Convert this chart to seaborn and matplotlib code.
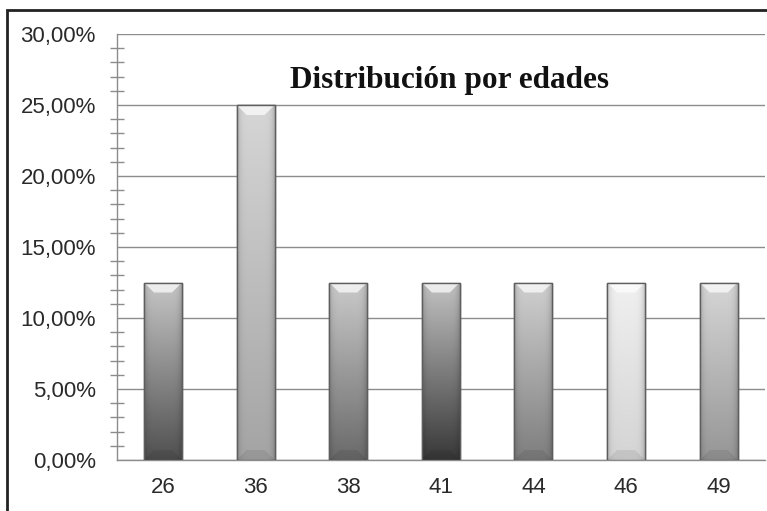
import numpy as np
import pandas as pd
import matplotlib
matplotlib.use("Agg")
import matplotlib.pyplot as plt
import matplotlib.ticker as mticker
from matplotlib.patches import Rectangle, Polygon
import seaborn as sns

# Chart data
edades = ["26", "36", "38", "41", "44", "46", "49"]
porcentajes = [12.5, 25.0, 12.5, 12.5, 12.5, 12.5, 12.5]

# grey shade of each bar (top, bottom)
tonos_arriba = ["#c6c6c6", "#d6d6d6", "#cacaca", "#c2c2c2", "#d0d0d0", "#f0f0f0", "#d6d6d6"]
tonos_abajo = ["#505050", "#a4a4a4", "#6a6a6a", "#383838", "#7e7e7e", "#d4d4d4", "#969696"]

df = pd.DataFrame({"edad": edades, "pct": porcentajes})

sns.set_style("white")
plt.rcParams["font.family"] = ["Liberation Sans", "DejaVu Sans"]

fig = plt.figure(figsize=(7.67, 5.11), dpi=100)
ax = fig.add_axes([116.7 / 767, 51 / 511, 648.3 / 767, 426 / 511])

sns.barplot(data=df, x="edad", y="pct", ax=ax, width=0.41,
            color="#aaaaaa", edgecolor="#5a5a5a", linewidth=1.0, zorder=3)

ax.set_ylim(0, 30)
ax.set_xlim(-0.5, len(edades) - 0.5)

# gradient fill for each bar, clipped to the bar patch
fig.canvas.draw()
inv = ax.transData.inverted()
px_x = inv.transform((1, 0))[0] - inv.transform((0, 0))[0]
px_y = inv.transform((0, 1))[1] - inv.transform((0, 0))[1]

for patch, c_top, c_bot in zip(ax.patches, tonos_arriba, tonos_abajo):
    x0, y0 = patch.get_x(), patch.get_y()
    w, h = patch.get_width(), patch.get_height()
    top = np.array(matplotlib.colors.to_rgb(c_top))
    bot = np.array(matplotlib.colors.to_rgb(c_bot))
    v = np.linspace(0, 1, 200)[:, None, None]
    u = np.linspace(-1, 1, 60)[None, :, None]
    img = top + (bot - top) * v
    img = img * (1 - 0.18 * np.abs(u) ** 6)
    im = ax.imshow(np.clip(img, 0, 1), extent=(x0, x0 + w, y0, y0 + h),
                   aspect="auto", origin="upper", zorder=3.5, interpolation="bilinear")
    im.set_clip_path(patch)
    # bevel at top
    bx, by = 10 * px_x, 10 * px_y
    bevel = Polygon([(x0, y0 + h), (x0 + w, y0 + h), (x0 + w - bx, y0 + h - by),
                     (x0 + bx, y0 + h - by)], closed=True, facecolor="white",
                    alpha=0.7, edgecolor="none", zorder=3.6)
    ax.add_patch(bevel)
    # soft dark band at bottom
    base = Polygon([(x0, y0), (x0 + w, y0), (x0 + w - bx, y0 + by), (x0 + bx, y0 + by)],
                   closed=True, facecolor="black", alpha=0.08, edgecolor="none", zorder=3.6)
    ax.add_patch(base)
    outline = Rectangle((x0, y0), w, h, fill=False, edgecolor="#5e5e5e", lw=1.0, zorder=3.7)
    ax.add_patch(outline)

# axes styling
ax.yaxis.set_major_locator(mticker.MultipleLocator(5))
ax.yaxis.set_minor_locator(mticker.MultipleLocator(1))
ax.yaxis.set_major_formatter(mticker.FuncFormatter(lambda v, p: f"{v:.2f}%".replace(".", ",")))
ax.grid(axis="y", which="major", color="#8c8c8c", lw=1.0, zorder=0)
ax.set_axisbelow(True)

ax.set_xticks(range(len(edades)))
ax.set_xticks(np.arange(-0.5, len(edades)), minor=True)
ax.tick_params(axis="x", which="major", direction="inout", length=8, width=1,
               color="#8c8c8c", labelsize=16, labelcolor="#2a2a2a", pad=8)
ax.tick_params(axis="x", which="minor", direction="out", length=6, width=1, color="#8c8c8c")
ax.tick_params(axis="y", which="major", direction="inout", length=12, width=1,
               color="#8c8c8c", labelsize=16, labelcolor="#2a2a2a", pad=9)
ax.tick_params(axis="y", which="minor", direction="inout", length=10, width=1, color="#8c8c8c", left=True)

for side in ["top", "right"]:
    ax.spines[side].set_visible(False)
for side in ["left", "bottom"]:
    ax.spines[side].set_color("#8c8c8c")
    ax.spines[side].set_linewidth(1.0)

ax.set_xlabel("")
ax.set_ylabel("")

ax.text(0.514, 0.89, "Distribución por edades", transform=ax.transAxes,
        ha="center", va="center", fontsize=22.5, fontweight="bold",
        family=["Liberation Serif", "DejaVu Serif"], color="#111111", zorder=5)

# outer chart border (cut at right and bottom)
fig.patches.append(Rectangle((7 / 767, -0.2), 1.2, 1.2 - 10 / 511, transform=fig.transFigure,
                             fill=False, edgecolor="#222222", lw=2, zorder=10))

fig.savefig("out.png", dpi=100)
